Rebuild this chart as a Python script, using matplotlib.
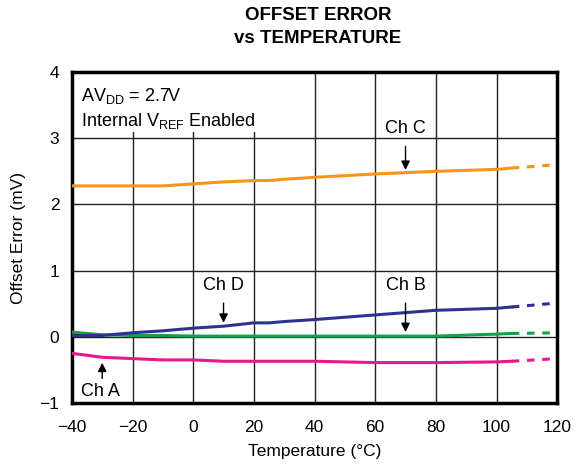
import matplotlib.pyplot as plt
from matplotlib.patches import Rectangle

plt.rcParams['font.family'] = ['Liberation Sans', 'DejaVu Sans']

# data (temperature in C, offset error in mV)
temp = [-40, -30, -20, -10, 0, 10, 20, 25, 30, 40, 60, 80, 100, 105]
ch_a = [-0.25, -0.31, -0.33, -0.35, -0.35, -0.37, -0.37, -0.37, -0.37, -0.37, -0.39, -0.39, -0.38, -0.37]
ch_b = [0.07, 0.03, 0.02, 0.02, 0.01, 0.01, 0.01, 0.01, 0.01, 0.01, 0.01, 0.01, 0.04, 0.05]
ch_c = [2.28, 2.28, 2.28, 2.28, 2.31, 2.34, 2.36, 2.36, 2.38, 2.41, 2.46, 2.50, 2.53, 2.55]
ch_d = [0.02, 0.02, 0.06, 0.09, 0.13, 0.16, 0.21, 0.21, 0.23, 0.26, 0.33, 0.40, 0.43, 0.45]

# extrapolated (dashed) part
temp_ext = [105, 120]
ch_a_ext = [-0.37, -0.33]
ch_b_ext = [0.05, 0.06]
ch_c_ext = [2.55, 2.60]
ch_d_ext = [0.45, 0.51]

x_ticks = [-40, -20, 0, 20, 40, 60, 80, 100, 120]
y_ticks = [-1, 0, 1, 2, 3, 4]

fig = plt.figure(figsize=(5.75, 4.68), dpi=100)
ax = fig.add_axes([0.125, 0.139, 0.844, 0.707])

colors = {'A': '#e8178a', 'B': '#12a14b', 'C': '#f7941d', 'D': '#2e3192'}
for key, y, y_ext in [('A', ch_a, ch_a_ext), ('B', ch_b, ch_b_ext),
                      ('D', ch_d, ch_d_ext), ('C', ch_c, ch_c_ext)]:
    ax.plot(temp, y, color=colors[key], lw=2.2, zorder=3)
    ax.plot(temp_ext, y_ext, color=colors[key], lw=2.2, ls=(0, (2.5, 2.5)), zorder=3)

ax.set_xlim(-40, 120)
ax.set_ylim(-1, 4)
ax.set_xticks(x_ticks)
ax.set_yticks(y_ticks)
ax.tick_params(length=0, labelsize=12.5)
ax.tick_params(axis='x', pad=12)
ax.tick_params(axis='y', pad=9)
ax.grid(True, color='#222222', lw=1)
ax.set_axisbelow(True)
for s in ax.spines.values():
    s.set_linewidth(2.5)

ax.set_xlabel('Temperature (°C)', fontsize=12.5, labelpad=7)
ax.set_ylabel('Offset Error (mV)', fontsize=12.5, labelpad=10)
fig.text(0.553, 0.943, 'OFFSET ERROR\nvs TEMPERATURE', ha='center', va='center',
         fontsize=13.5, fontweight='bold', linespacing=1.45)

# white box behind the condition text (hides grid lines there)
ax.add_patch(Rectangle((-40, 3.09), 62, 0.91, facecolor='white', edgecolor='none', zorder=2))
ax.text(-37, 3.45, 'AV$_\\mathregular{DD}$ = 2.7V\nInternal V$_\\mathregular{REF}$ Enabled',
        fontsize=13, va='center', ha='left', linespacing=1.3, zorder=4)

arrow = dict(arrowstyle='-|>', color='black', lw=1, mutation_scale=13)
ax.annotate('', xy=(70, 2.48), xytext=(70, 2.92), arrowprops=arrow)
ax.text(70, 3.15, 'Ch C', ha='center', va='center', fontsize=13)
ax.annotate('', xy=(10, 0.17), xytext=(10, 0.55), arrowprops=arrow)
ax.text(10, 0.78, 'Ch D', ha='center', va='center', fontsize=13)
ax.annotate('', xy=(70, 0.03), xytext=(70, 0.55), arrowprops=arrow)
ax.text(70, 0.78, 'Ch B', ha='center', va='center', fontsize=13)
ax.annotate('', xy=(-30, -0.35), xytext=(-30, -0.67), arrowprops=arrow)
ax.text(-30.5, -0.83, 'Ch A', ha='center', va='center', fontsize=13)

fig.savefig('out.png', dpi=100)
